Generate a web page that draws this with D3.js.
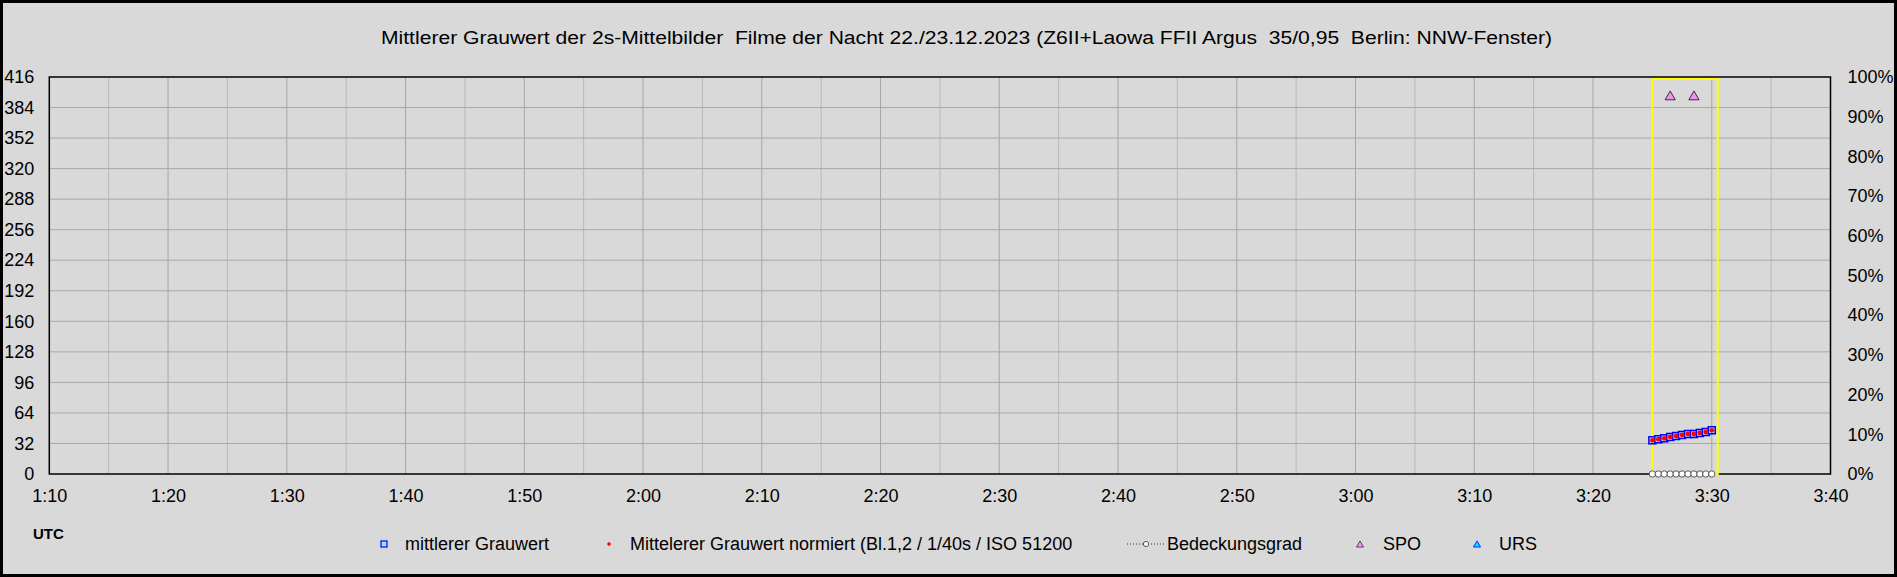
<!DOCTYPE html>
<html>
<head>
<meta charset="utf-8">
<script src="https://cdn.jsdelivr.net/npm/d3@7"></script>
<style>
  body { margin: 0; background: #d9d9d9; }
  svg { display: block; font-family: "Liberation Sans", Arial, sans-serif; }
  .title { white-space: pre; }
</style>
</head>
<body>
<div id="chart"></div>
<script>
// values
const titleText = 'Mittlerer Grauwert der 2s-Mittelbilder  Filme der Nacht 22./23.12.2023 (Z6II+Laowa FFII Argus  35/0,95  Berlin: NNW-Fenster)';
const timeDomain = ['01:10:00', '03:40:00'];
const filmWindow = ['03:25:00', '03:30:30'];

const sampleTimes = ['03:25:00', '03:25:30', '03:26:00', '03:26:30', '03:27:00', '03:27:30',
                     '03:28:00', '03:28:30', '03:29:00', '03:29:30', '03:30:00'];
const greyValues = [35.3, 36.4, 37.4, 38.8, 39.8, 40.9, 41.9, 41.9, 43.0, 44.0, 45.8];
const normValues = [35.3, 36.4, 37.4, 38.8, 39.8, 40.9, 41.9, 41.9, 43.0, 44.0, 45.8];
const coverValues = [0, 0, 0, 0, 0, 0, 0, 0, 0, 0, 0]; // percent

const spoTimes = ['03:26:30', '03:28:30'];
const spoValues = [95, 95]; // percent axis
const ursTimes = [];
const ursValues = [];

const leftTicks = [0, 32, 64, 96, 128, 160, 192, 224, 256, 288, 320, 352, 384, 416];
const rightTicks = [0, 10, 20, 30, 40, 50, 60, 70, 80, 90, 100];

const legendLabels = ['mittlerer Grauwert', 'Mittelerer Grauwert normiert (Bl.1,2 / 1/40s / ISO 51200',
                      'Bedeckungsgrad', 'SPO', 'URS'];

const width = 1897;
const height = 577;
const margin = { top: 77, right: 66.5, bottom: 103, left: 49.3 };
const plot = {
  left: margin.left,
  right: width - margin.right,
  top: margin.top,
  bottom: height - margin.bottom,
};

const parseT = d3.utcParse('%Y-%m-%d %H:%M:%S');
const t = (s) => parseT('2023-12-23 ' + s);

const svg = d3.select('#chart')
  .append('svg')
  .attr('width', width)
  .attr('height', height);

// background + outer frame
svg.append('rect')
  .attr('x', 1.5).attr('y', 1.5)
  .attr('width', width - 3).attr('height', height - 3)
  .attr('fill', '#d9d9d9')
  .attr('stroke', '#000')
  .attr('stroke-width', 3);

const xScale = d3.scaleUtc()
  .domain(timeDomain.map(t))
  .range([plot.left, plot.right]);

const yScale = d3.scaleLinear()
  .domain([0, 416])
  .range([plot.bottom, plot.top]);

const yRight = d3.scaleLinear()
  .domain([0, 100])
  .range([plot.bottom, plot.top]);

// gridlines
const grid = svg.append('g').attr('class', 'grid');
const fiveMin = d3.utcMinute.every(5).range(xScale.domain()[0], d3.utcMinute.offset(xScale.domain()[1], 1));
grid.selectAll('line.v')
  .data(fiveMin.filter((d) => d > xScale.domain()[0] && d < xScale.domain()[1]))
  .join('line')
  .attr('class', 'v')
  .attr('x1', (d) => xScale(d)).attr('x2', (d) => xScale(d))
  .attr('y1', plot.top).attr('y2', plot.bottom)
  .attr('stroke', (d) => d.getUTCMinutes() % 10 === 0 ? '#a6a6a6' : '#b8b8b8')
  .attr('stroke-width', 1);

grid.selectAll('line.h')
  .data(leftTicks.filter((d) => d > 0 && d < 416))
  .join('line')
  .attr('class', 'h')
  .attr('x1', plot.left).attr('x2', plot.right)
  .attr('y1', (d) => yScale(d)).attr('y2', (d) => yScale(d))
  .attr('stroke', '#a8a8a8')
  .attr('stroke-width', 1);

// axes
const xAxis = d3.axisBottom(xScale)
  .ticks(d3.utcMinute.every(10))
  .tickFormat(d3.utcFormat('%-H:%M'))
  .tickSize(0)
  .tickPadding(15.5);

const gx = svg.append('g')
  .attr('transform', `translate(0, ${plot.bottom})`)
  .call(xAxis);

const gy = svg.append('g')
  .attr('transform', `translate(${plot.left}, 0)`)
  .call(d3.axisLeft(yScale).tickValues(leftTicks).tickSize(0).tickPadding(15));

const gr = svg.append('g')
  .attr('transform', `translate(${plot.right}, 0)`)
  .call(d3.axisRight(yRight).tickValues(rightTicks).tickSize(0).tickPadding(17)
    .tickFormat((d) => d + '%'));

[gx, gy, gr].forEach((g) => {
  g.select('.domain').remove();
  g.selectAll('text')
    .attr('fill', '#000')
    .style('font-size', '18px')
    .style('font-family', '"Liberation Sans", Arial, sans-serif');
});

// plot frame
svg.append('rect')
  .attr('x', plot.left).attr('y', plot.top)
  .attr('width', plot.right - plot.left)
  .attr('height', plot.bottom - plot.top)
  .attr('fill', 'none')
  .attr('stroke', '#000')
  .attr('stroke-width', 1.5);

// film window
svg.append('rect')
  .attr('x', xScale(t(filmWindow[0])))
  .attr('y', plot.top + 2)
  .attr('width', xScale(t(filmWindow[1])) - xScale(t(filmWindow[0])))
  .attr('height', plot.bottom - plot.top - 2)
  .attr('fill', 'none')
  .attr('stroke', '#ffff00')
  .attr('stroke-width', 2);

// Bedeckungsgrad
const coverData = sampleTimes.map((s, i) => ({ time: t(s), value: coverValues[i] }));
svg.append('path')
  .datum(coverData)
  .attr('fill', 'none')
  .attr('stroke', '#333')
  .attr('stroke-dasharray', '1,2')
  .attr('d', d3.line().x((d) => xScale(d.time)).y((d) => yRight(d.value)));

svg.append('g')
  .selectAll('circle')
  .data(coverData)
  .join('circle')
  .attr('cx', (d) => xScale(d.time))
  .attr('cy', (d) => yRight(d.value))
  .attr('r', 3.2)
  .attr('fill', '#fff')
  .attr('stroke', '#555')
  .attr('stroke-width', 1);

// mittlerer Grauwert
const greyData = sampleTimes.map((s, i) => ({ time: t(s), value: greyValues[i] }));
svg.append('g')
  .selectAll('rect')
  .data(greyData)
  .join('rect')
  .attr('x', (d) => xScale(d.time) - 3.5)
  .attr('y', (d) => yScale(d.value) - 3.5)
  .attr('width', 7).attr('height', 7)
  .attr('fill', '#9fe6ff')
  .attr('stroke', '#0000ff')
  .attr('stroke-width', 1.5);

// normiert
const normData = sampleTimes.map((s, i) => ({ time: t(s), value: normValues[i] }));
svg.append('g')
  .selectAll('circle')
  .data(normData)
  .join('circle')
  .attr('cx', (d) => xScale(d.time))
  .attr('cy', (d) => yScale(d.value))
  .attr('r', 2.4)
  .attr('fill', '#ff0000');

// meteors
const tri = d3.symbol().type(d3.symbolTriangle).size(45);
svg.append('g')
  .selectAll('path')
  .data(spoTimes.map((s, i) => ({ time: t(s), value: spoValues[i] })))
  .join('path')
  .attr('transform', (d) => `translate(${xScale(d.time)}, ${yRight(d.value)})`)
  .attr('d', tri)
  .attr('fill', '#f090f0')
  .attr('stroke', '#333')
  .attr('stroke-width', 1);

svg.append('g')
  .selectAll('path')
  .data(ursTimes.map((s, i) => ({ time: t(s), value: ursValues[i] })))
  .join('path')
  .attr('transform', (d) => `translate(${xScale(d.time)}, ${yRight(d.value)})`)
  .attr('d', tri)
  .attr('fill', '#00e5ff')
  .attr('stroke', '#0000ff');

// title
svg.append('text')
  .attr('class', 'title')
  .attr('x', 966.5)
  .attr('y', 37.5)
  .attr('dy', '0.35em')
  .attr('text-anchor', 'middle')
  .attr('textLength', 1171)
  .attr('lengthAdjust', 'spacingAndGlyphs')
  .style('font-size', '18px')
  .text(titleText);

// UTC label
svg.append('text')
  .attr('x', 33)
  .attr('y', 534)
  .attr('dy', '0.35em')
  .style('font-size', '15px')
  .style('font-weight', 'bold')
  .text('UTC');

// legend
const legendY = 544;
const legendMarkerX = [384, 609, 1146, 1360, 1477];
const legendTextX = [405, 630, 1167, 1383, 1499];
const legend = svg.append('g');

legend.append('rect')
  .attr('x', legendMarkerX[0] - 3).attr('y', legendY - 3)
  .attr('width', 6).attr('height', 6)
  .attr('fill', '#9fe6ff').attr('stroke', '#0000ff').attr('stroke-width', 1.2);

legend.append('circle')
  .attr('cx', legendMarkerX[1]).attr('cy', legendY).attr('r', 1.8)
  .attr('fill', '#ff0000');

legend.append('line')
  .attr('x1', legendMarkerX[2] - 19).attr('x2', legendMarkerX[2] + 19)
  .attr('y1', legendY).attr('y2', legendY)
  .attr('stroke', '#333').attr('stroke-dasharray', '1,2');
legend.append('circle')
  .attr('cx', legendMarkerX[2]).attr('cy', legendY).attr('r', 2.6)
  .attr('fill', '#fff').attr('stroke', '#555');

const smallTri = d3.symbol().type(d3.symbolTriangle).size(22);
legend.append('path')
  .attr('transform', `translate(${legendMarkerX[3]}, ${legendY + 1})`)
  .attr('d', smallTri)
  .attr('fill', '#f090f0').attr('stroke', '#333').attr('stroke-width', 0.8);
legend.append('path')
  .attr('transform', `translate(${legendMarkerX[4]}, ${legendY + 1})`)
  .attr('d', smallTri)
  .attr('fill', '#00e5ff').attr('stroke', '#0000ff').attr('stroke-width', 0.8);

legend.selectAll('text')
  .data(legendLabels)
  .join('text')
  .attr('x', (d, i) => legendTextX[i])
  .attr('y', legendY)
  .attr('dy', '0.35em')
  .style('font-size', '18px')
  .text((d) => d);
</script>
</body>
</html>
